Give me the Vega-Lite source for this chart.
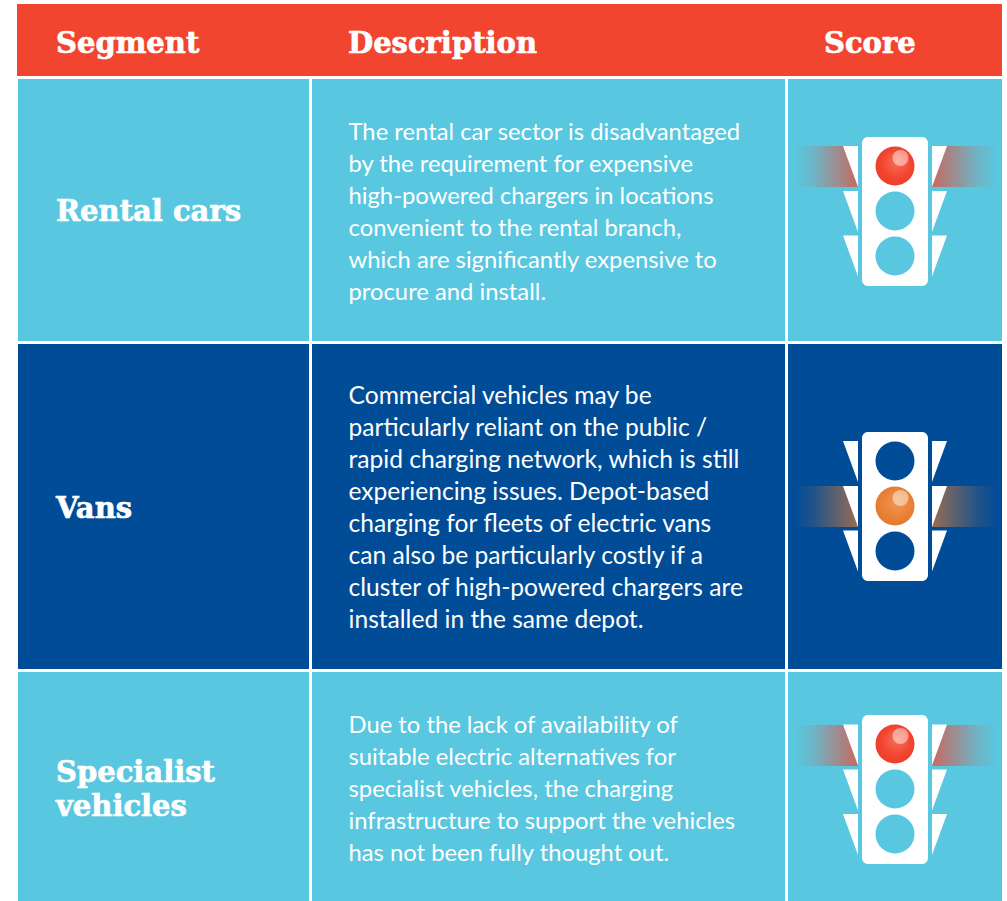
{"$schema":"https://vega.github.io/schema/vega-lite/v6.json","width":1007,"height":901,"padding":0,"autosize":{"type":"fit","contains":"padding"},"background":"white","config":{"view":{"stroke":null}},
"datasets":{
"cells":[
{"section":"Header","band":"header","x":17,"x2":1002,"y":4,"y2":76},
{"section":"Rental cars","band":"light","x":18,"x2":309,"y":79,"y2":341},
{"section":"Rental cars","band":"light","x":312,"x2":785,"y":79,"y2":341},
{"section":"Rental cars","band":"light","x":788,"x2":1002,"y":79,"y2":341},
{"section":"Vans","band":"dark","x":18,"x2":309,"y":344,"y2":669},
{"section":"Vans","band":"dark","x":312,"x2":785,"y":344,"y2":669},
{"section":"Vans","band":"dark","x":788,"x2":1002,"y":344,"y2":669},
{"section":"Specialist vehicles","band":"light","x":18,"x2":309,"y":672,"y2":901},
{"section":"Specialist vehicles","band":"light","x":312,"x2":785,"y":672,"y2":901},
{"section":"Specialist vehicles","band":"light","x":788,"x2":1002,"y":672,"y2":901}],
"headings":[
{"text":"Segment","x":56,"y":44},{"text":"Description","x":348,"y":44},{"text":"Score","x":824,"y":44},
{"text":"Rental cars","x":56,"y":212},{"text":"Vans","x":56,"y":509},{"text":"Specialist","x":56,"y":773},{"text":"vehicles","x":56,"y":807}],
"lines":[
{"section":"Rental cars","text":"The rental car sector is disadvantaged","x":348.5,"y":133},
{"section":"Rental cars","text":"by the requirement for expensive","x":348.5,"y":165},
{"section":"Rental cars","text":"high-powered chargers in locations","x":348.5,"y":197},
{"section":"Rental cars","text":"convenient to the rental branch,","x":348.5,"y":229},
{"section":"Rental cars","text":"which are significantly expensive to","x":348.5,"y":261},
{"section":"Rental cars","text":"procure and install.","x":348.5,"y":293},
{"section":"Vans","text":"Commercial vehicles may be","x":348.5,"y":397},
{"section":"Vans","text":"particularly reliant on the public /","x":348.5,"y":429},
{"section":"Vans","text":"rapid charging network, which is still","x":348.5,"y":461},
{"section":"Vans","text":"experiencing issues. Depot-based","x":348.5,"y":493},
{"section":"Vans","text":"charging for fleets of electric vans","x":348.5,"y":525},
{"section":"Vans","text":"can also be particularly costly if a","x":348.5,"y":557},
{"section":"Vans","text":"cluster of high-powered chargers are","x":348.5,"y":589},
{"section":"Vans","text":"installed in the same depot.","x":348.5,"y":621},
{"section":"Specialist vehicles","text":"Due to the lack of availability of","x":348.5,"y":726},
{"section":"Specialist vehicles","text":"suitable electric alternatives for","x":348.5,"y":758},
{"section":"Specialist vehicles","text":"specialist vehicles, the charging","x":348.5,"y":790},
{"section":"Specialist vehicles","text":"infrastructure to support the vehicles","x":348.5,"y":822},
{"section":"Specialist vehicles","text":"has not been fully thought out.","x":348.5,"y":854}],
"bodies":[
{"section":"Rental cars","x":862,"x2":928,"y":137,"y2":286},
{"section":"Vans","x":862,"x2":928,"y":432,"y2":581},
{"section":"Specialist vehicles","x":862,"x2":928,"y":715,"y2":864}],
"lights":[
{"section":"Rental cars","band":"light","state":"red","x":895,"y":166},
{"section":"Rental cars","band":"light","state":"off","x":895,"y":211},
{"section":"Rental cars","band":"light","state":"off","x":895,"y":256},
{"section":"Vans","band":"dark","state":"off","x":895,"y":461},
{"section":"Vans","band":"dark","state":"amber","x":895,"y":506},
{"section":"Vans","band":"dark","state":"off","x":895,"y":551},
{"section":"Specialist vehicles","band":"light","state":"red","x":895,"y":744},
{"section":"Specialist vehicles","band":"light","state":"off","x":895,"y":789},
{"section":"Specialist vehicles","band":"light","state":"off","x":895,"y":834}],
"glows":[
{"state":"red","side":"left","x":795,"x2":858,"y":146,"y2":187},
{"state":"red","side":"right","x":932,"x2":997,"y":146,"y2":187},
{"state":"amber","side":"left","x":795,"x2":858,"y":486,"y2":527},
{"state":"amber","side":"right","x":932,"x2":997,"y":486,"y2":527},
{"state":"red","side":"left","x":795,"x2":858,"y":725,"y2":766},
{"state":"red","side":"right","x":932,"x2":997,"y":725,"y2":766}],
"wings":[
{"side":"left","x":850.5,"y":166.5},{"side":"left","x":850.5,"y":211.5},{"side":"left","x":850.5,"y":256},
{"side":"right","x":939.5,"y":166.5},{"side":"right","x":939.5,"y":211.5},{"side":"right","x":939.5,"y":256},
{"side":"left","x":850.5,"y":461.5},{"side":"left","x":850.5,"y":506.5},{"side":"left","x":850.5,"y":551},
{"side":"right","x":939.5,"y":461.5},{"side":"right","x":939.5,"y":506.5},{"side":"right","x":939.5,"y":551},
{"side":"left","x":850.5,"y":745},{"side":"left","x":850.5,"y":790},{"side":"left","x":850.5,"y":834.5},
{"side":"right","x":939.5,"y":745},{"side":"right","x":939.5,"y":790},{"side":"right","x":939.5,"y":834.5}]
},
"encoding":{
"x":{"field":"x","type":"quantitative","scale":{"domain":[0,1007],"nice":false,"zero":false},"axis":null},
"y":{"field":"y","type":"quantitative","scale":{"domain":[901,0],"nice":false,"zero":false},"axis":null}},
"layer":[
{"data":{"name":"cells"},"mark":{"type":"rect"},"encoding":{"x2":{"field":"x2"},"y2":{"field":"y2"},"color":{"field":"band","type":"nominal","legend":null,"scale":{"domain":["header","light","dark"],"range":["#f2452f","#58c7df","#004c97"]}}}},
{"data":{"name":"glows"},"transform":[{"filter":"datum.state==='red'&&datum.side==='left'"}],"mark":{"type":"rect","color":{"gradient":"linear","x1":0,"y1":0,"x2":1,"y2":0,"stops":[{"offset":0,"color":"rgba(242,69,47,0)"},{"offset":0.3,"color":"rgba(242,69,47,0.15)"},{"offset":1,"color":"rgba(242,69,47,0.72)"}]}},"encoding":{"x2":{"field":"x2"},"y2":{"field":"y2"}}},
{"data":{"name":"glows"},"transform":[{"filter":"datum.state==='red'&&datum.side==='right'"}],"mark":{"type":"rect","color":{"gradient":"linear","x1":1,"y1":0,"x2":0,"y2":0,"stops":[{"offset":0,"color":"rgba(242,69,47,0)"},{"offset":0.3,"color":"rgba(242,69,47,0.15)"},{"offset":1,"color":"rgba(242,69,47,0.72)"}]}},"encoding":{"x2":{"field":"x2"},"y2":{"field":"y2"}}},
{"data":{"name":"glows"},"transform":[{"filter":"datum.state==='amber'&&datum.side==='left'"}],"mark":{"type":"rect","color":{"gradient":"linear","x1":0,"y1":0,"x2":1,"y2":0,"stops":[{"offset":0,"color":"rgba(232,126,48,0)"},{"offset":0.3,"color":"rgba(232,126,48,0.15)"},{"offset":1,"color":"rgba(232,126,48,0.65)"}]}},"encoding":{"x2":{"field":"x2"},"y2":{"field":"y2"}}},
{"data":{"name":"glows"},"transform":[{"filter":"datum.state==='amber'&&datum.side==='right'"}],"mark":{"type":"rect","color":{"gradient":"linear","x1":1,"y1":0,"x2":0,"y2":0,"stops":[{"offset":0,"color":"rgba(232,126,48,0)"},{"offset":0.3,"color":"rgba(232,126,48,0.15)"},{"offset":1,"color":"rgba(232,126,48,0.65)"}]}},"encoding":{"x2":{"field":"x2"},"y2":{"field":"y2"}}},
{"data":{"name":"wings"},"transform":[{"filter":"datum.side==='left'"}],"mark":{"type":"point","filled":true,"color":"white","opacity":1,"strokeWidth":0,"size":1681,"shape":"M-0.366,-1L0.366,-1L0.366,1Z"}},
{"data":{"name":"wings"},"transform":[{"filter":"datum.side==='right'"}],"mark":{"type":"point","filled":true,"color":"white","opacity":1,"strokeWidth":0,"size":1681,"shape":"M-0.366,-1L0.366,-1L-0.366,1Z"}},
{"data":{"name":"bodies"},"mark":{"type":"rect","color":"white","cornerRadius":6},"encoding":{"x2":{"field":"x2"},"y2":{"field":"y2"}}},
{"data":{"name":"lights"},"transform":[{"filter":"datum.state==='off'"}],"mark":{"type":"circle","opacity":1,"size":1521,"strokeWidth":0},"encoding":{"color":{"field":"band","type":"nominal","legend":null,"scale":{"domain":["header","light","dark"],"range":["#f2452f","#58c7df","#004c97"]}}}},
{"data":{"name":"lights"},"transform":[{"filter":"datum.state==='red'"}],"mark":{"type":"point","shape":"circle","filled":true,"opacity":1,"size":1521,"strokeWidth":0,"color":{"gradient":"radial","x1":0.58,"y1":0.35,"r1":0,"x2":0.5,"y2":0.5,"r2":0.62,"stops":[{"offset":0,"color":"#f7735f"},{"offset":0.6,"color":"#f2452f"},{"offset":1,"color":"#ea3a26"}]}}},
{"data":{"name":"lights"},"transform":[{"filter":"datum.state==='amber'"}],"mark":{"type":"point","shape":"circle","filled":true,"opacity":1,"size":1521,"strokeWidth":0,"color":{"gradient":"radial","x1":0.58,"y1":0.35,"r1":0,"x2":0.5,"y2":0.5,"r2":0.62,"stops":[{"offset":0,"color":"#ee9a58"},{"offset":0.6,"color":"#e98136"},{"offset":1,"color":"#e0762a"}]}}},
{"data":{"name":"lights"},"transform":[{"filter":"datum.state!=='off'"}],"mark":{"type":"circle","color":"white","opacity":0.45,"size":256,"xOffset":5.5,"yOffset":-8}},
{"data":{"name":"headings"},"mark":{"type":"text","align":"left","baseline":"middle","font":"DejaVu Serif","fontWeight":"bold","fontSize":29,"color":"white","stroke":"white","strokeWidth":0.7}, "encoding":{"text":{"field":"text"}}},
{"data":{"name":"lines"},"transform":[{"filter":"datum.section!=='Vans'"}],"mark":{"type":"text","align":"left","baseline":"middle","font":"Lato","fontSize":23.8,"color":"white"},"encoding":{"text":{"field":"text"}}},
{"data":{"name":"lines"},"transform":[{"filter":"datum.section==='Vans'"}],"mark":{"type":"text","align":"left","baseline":"middle","font":"Lato","fontSize":24.6,"color":"white"},"encoding":{"text":{"field":"text"}}}
]}
